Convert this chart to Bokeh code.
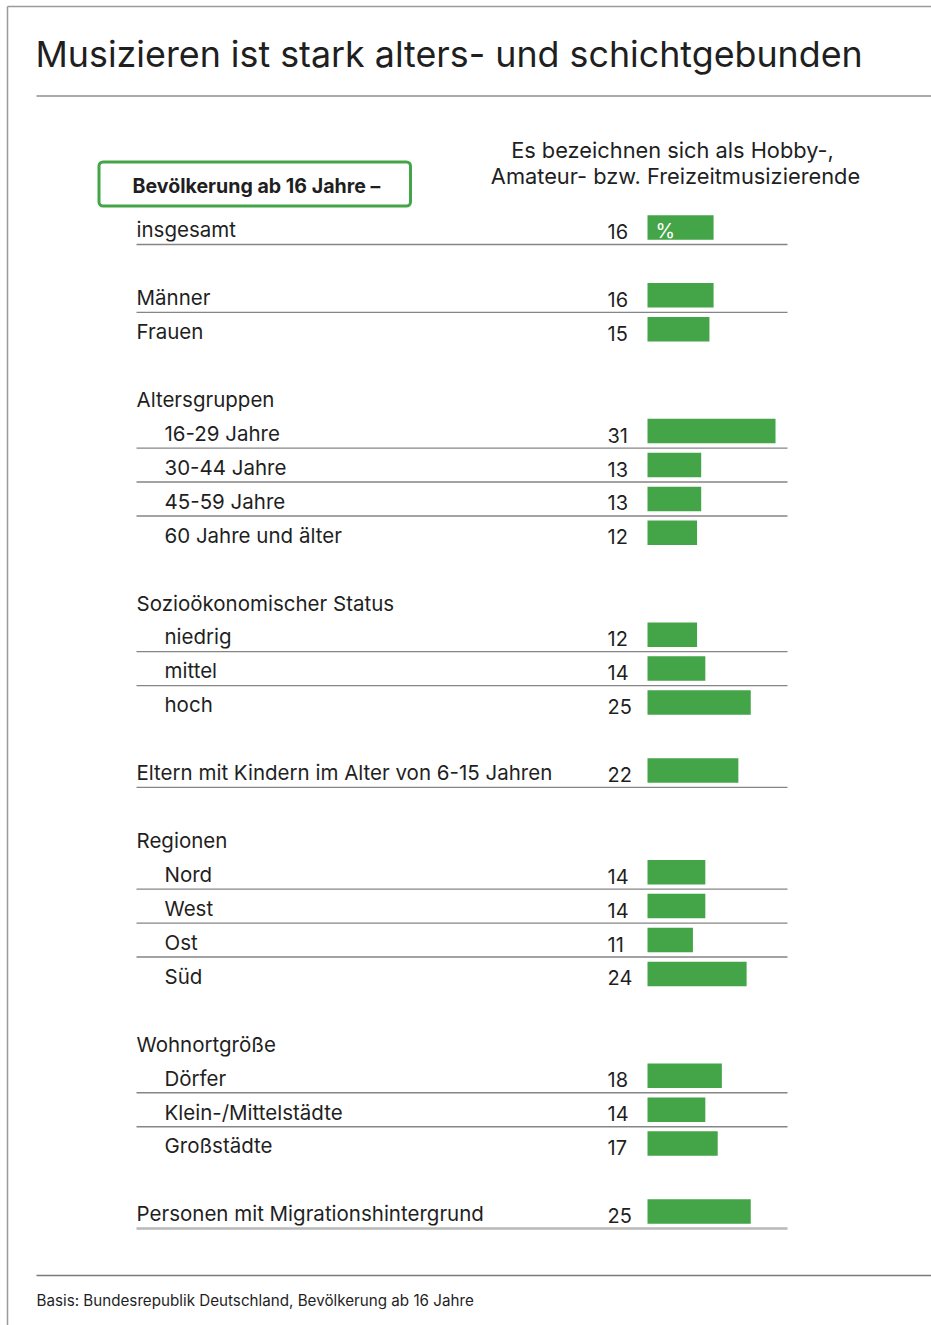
from bokeh.plotting import figure
from bokeh.models import Range1d
from bokeh.core.properties import value
from bokeh.embed import file_html
from bokeh.resources import INLINE

# ---------------- data ----------------
title = "Musizieren ist stark alters- und schichtgebunden"
box_label = "Bevölkerung ab 16 Jahre –"
header_lines = ["Es bezeichnen sich als Hobby-,", "Amateur- bzw. Freizeitmusizierende"]
footer = "Basis: Bundesrepublik Deutschland, Bevölkerung ab 16 Jahre"
unit_label = "%"

group_headers = [None, None, "Altersgruppen", "Sozioökonomischer Status", None,
                 "Regionen", "Wohnortgröße", None]
group_items = [
    ["insgesamt"],
    ["Männer", "Frauen"],
    ["16-29 Jahre", "30-44 Jahre", "45-59 Jahre", "60 Jahre und älter"],
    ["niedrig", "mittel", "hoch"],
    ["Eltern mit Kindern im Alter von 6-15 Jahren"],
    ["Nord", "West", "Ost", "Süd"],
    ["Dörfer", "Klein-/Mittelstädte", "Großstädte"],
    ["Personen mit Migrationshintergrund"],
]
values = [16, 16, 15, 31, 13, 13, 12, 12, 14, 25, 22, 14, 14, 11, 24, 18, 14, 17, 25]

# ---------------- layout helpers ----------------
W, H = 931, 1325
PX = 4.13        # pixels per percentage point
SLOT = 33.93     # row pitch in px
FONT = value("Inter")
DARK = "#1f1f1f"
GREEN = "#43a547"
SHIFT = 0.35     # baseline correction (em)


def fx(px):  # screen x -> data x
    return (px - 647) / PX


def fy(py):  # screen y -> data y (row units)
    return (py - 227) / SLOT


def ty(py, size):  # text baseline (screen y) -> data y
    return fy(py - SHIFT * size)


def toff(px, size):  # baseline offset in row units relative to bar centre
    return (px - SHIFT * size) / SLOT


# build rows
item_slots, item_labels, item_indent = [], [], []
head_slots, head_labels = [], []
line_slots, line_last = [], []
s = 0
for gi, (hd, items) in enumerate(zip(group_headers, group_items)):
    if hd is not None:
        head_slots.append(s)
        head_labels.append(hd)
        s += 1
    for k, it in enumerate(items):
        item_slots.append(s)
        item_labels.append(it)
        item_indent.append(hd is not None)
        if len(items) == 1 or k < len(items) - 1:
            line_slots.append(s)
            line_last.append(gi == len(group_items) - 1)
        s += 1
    s += 1

p = figure(width=W, height=H, output_backend="svg", toolbar_location=None,
           x_range=Range1d(fx(0), fx(W)), y_range=Range1d(fy(H), fy(0)),
           x_axis_location=None, y_axis_location=None, min_border=0,
           background_fill_color="white", border_fill_color="white")
p.grid.visible = False
p.outline_line_color = None

# frame lines
p.segment(x0=[fx(7)], y0=[fy(6)], x1=[fx(931)], y1=[fy(6)], line_color="#9a9a9a", line_width=1.5)
p.segment(x0=[fx(7)], y0=[fy(6)], x1=[fx(7)], y1=[fy(1325)], line_color="#9a9a9a", line_width=1.5)
p.segment(x0=[fx(36)], y0=[fy(95.5)], x1=[fx(931)], y1=[fy(95.5)], line_color="#8c8c8c", line_width=1.3)
p.segment(x0=[fx(36)], y0=[fy(1275)], x1=[fx(931)], y1=[fy(1275)], line_color="#7a7a7a", line_width=1.3)

# title
TS = 35.8
p.text(x=[fx(35)], y=[ty(66.5, TS)], text=[title], text_font=FONT, text_font_size=f"{TS}px",
       text_color=DARK, text_baseline="alphabetic", text_align="left")

# header box
p.quad(left=[fx(98.5)], right=[fx(410)], top=[fy(161.5)], bottom=[fy(205.5)],
       fill_color=None, line_color=GREEN, line_width=3, border_radius=4)
BS = 19.6
p.text(x=[fx(132)], y=[ty(192.3, BS)], text=[box_label], text_font=FONT, text_font_size=f"{BS}px",
       text_font_style="bold", text_color=DARK, text_baseline="alphabetic")

# right header
HS = 21.8
p.text(x=[fx(672), fx(675)], y=[ty(156.7, HS), ty(182.7, HS)], text=header_lines, text_font=FONT,
       text_font_size=f"{HS}px", text_color=DARK, text_baseline="alphabetic", text_align="center")

# separators
dark_y = [sl + 17 / SLOT for sl, last in zip(line_slots, line_last) if not last]
light_y = [sl + 17 / SLOT for sl, last in zip(line_slots, line_last) if last]
p.segment(x0=[fx(136)] * len(dark_y), x1=[fx(787)] * len(dark_y), y0=dark_y, y1=dark_y,
          line_color="#858585", line_width=1.4)
p.segment(x0=[fx(136)] * len(light_y), x1=[fx(787)] * len(light_y), y0=light_y, y1=light_y,
          line_color="#b8b8b8", line_width=2.5)

# bars
LS = 20.5
NS = 20
p.hbar(y=item_slots, left=0, right=values, height=24.5 / SLOT, fill_color=GREEN, line_color=None)
p.text(x=[fx(655)], y=[item_slots[0] + toff(10, NS)], text=[unit_label], text_font=FONT,
       text_font_size=f"{NS}px", text_color="white", text_baseline="alphabetic")

# labels
p.text(x=[fx(164) if ind else fx(136) for ind in item_indent],
       y=[sl + toff(9.5, LS) for sl in item_slots], text=item_labels, text_font=FONT,
       text_font_size=f"{LS}px", text_color=DARK, text_baseline="alphabetic")
p.text(x=[fx(136)] * len(head_slots), y=[sl + toff(9.5, LS) for sl in head_slots], text=head_labels,
       text_font=FONT, text_font_size=f"{LS}px", text_color=DARK, text_baseline="alphabetic")
p.text(x=[fx(607)] * len(values), y=[sl + toff(11, NS) for sl in item_slots],
       text=[str(v) for v in values], text_font=FONT, text_font_size=f"{NS}px",
       text_color=DARK, text_baseline="alphabetic")

# footer
FS = 15.2
p.text(x=[fx(36)], y=[ty(1305, FS)], text=[footer], text_font=FONT, text_font_size=f"{FS}px",
       text_color=DARK, text_baseline="alphabetic")

open("out.html", "w").write(file_html(p, INLINE))
